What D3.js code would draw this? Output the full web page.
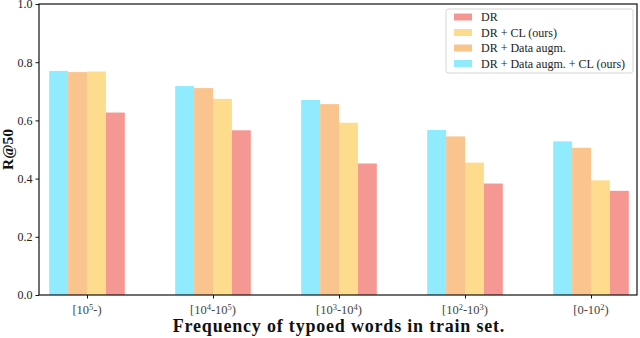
<!DOCTYPE html>
<html>
<head>
<meta charset="utf-8">
<script src="https://cdn.jsdelivr.net/npm/d3@7"></script>
<style>
  body { margin: 0; background: #fff; }
  svg text { font-family: "Liberation Serif", "DejaVu Serif", serif; fill: #222; }
</style>
</head>
<body>
<svg id="chart" width="640" height="338"></svg>
<script>
// frequency buckets, '^' marks a superscript digit
const buckets = ['[10^5-)', '[10^4-10^5)', '[10^3-10^4)', '[10^2-10^3)', '[0-10^2)']
const yTicks = [0, 0.2, 0.4, 0.6, 0.8, 1.0]

// R@50 per bucket
const dr = [0.627, 0.566, 0.452, 0.383, 0.358]
const drCl = [0.768, 0.674, 0.592, 0.455, 0.394]
const drAug = [0.766, 0.711, 0.656, 0.545, 0.506]
const drAugCl = [0.770, 0.718, 0.670, 0.567, 0.528]

const seriesNames = ['DR', 'DR + CL (ours)', 'DR + Data augm.', 'DR + Data augm. + CL (ours)']
const seriesColors = ['#f59893', '#fddd8d', '#fac48e', '#8febfd']

// bars are drawn left to right in this order
const barOrder = [
  { values: drAugCl, color: seriesColors[3] },
  { values: drAug, color: seriesColors[2] },
  { values: drCl, color: seriesColors[1] },
  { values: dr, color: seriesColors[0] },
]

const svg = d3.select('#chart')
const margin = { top: 4, right: 3, bottom: 43, left: 39 }
const width = 640 - margin.left - margin.right
const height = 338 - margin.top - margin.bottom
const barW = 0.15

const x = d3.scaleLinear().domain([-0.381, 4.365]).range([0, width])
const y = d3.scaleLinear().domain([0, 1]).range([height, 0])

const g = svg.append('g').attr('transform', `translate(${margin.left},${margin.top})`)

// bars
barOrder.forEach((s, si) => {
  g.selectAll(null)
    .data(s.values)
    .enter()
    .append('rect')
    .attr('x', (d, i) => x(i + (si - 2) * barW))
    .attr('width', (d, i) => x(i + (si - 1) * barW) - x(i + (si - 2) * barW))
    .attr('y', d => y(d))
    .attr('height', d => y(0) - y(d))
    .attr('fill', s.color)
})

// frame
g.append('rect')
  .attr('width', width).attr('height', height)
  .attr('fill', 'none').attr('stroke', '#111').attr('stroke-width', 1.2)

// y axis
const yAxis = g.append('g')
  .call(d3.axisLeft(y).tickValues(yTicks).tickFormat(d3.format('.1f')).tickSize(3.5).tickPadding(3))
yAxis.select('.domain').remove()
yAxis.selectAll('line').attr('stroke', '#111').attr('stroke-width', 1)
yAxis.selectAll('text').style('font-size', '12px').attr('fill', '#444')

// x axis
const xAxis = g.append('g')
  .attr('transform', `translate(0,${height})`)
  .call(d3.axisBottom(x).tickValues(d3.range(buckets.length)).tickFormat('').tickSize(3.5))
xAxis.select('.domain').remove()
xAxis.selectAll('line').attr('stroke', '#111').attr('stroke-width', 1)

buckets.forEach((label, i) => {
  const t = g.append('text')
    .attr('x', x(i))
    .attr('y', height + 19)
    .attr('text-anchor', 'middle')
    .style('font-size', '12.5px')
    .style('fill', '#444')
  label.split(/(\^\d)/).filter(p => p).forEach(p => {
    if (p[0] === '^') {
      t.append('tspan').text(p[1]).style('font-size', '8.5px').attr('dy', -4.5)
    } else {
      const ts = t.append('tspan').text(p)
      if (t.selectAll('tspan').size() > 1) ts.attr('dy', 4.5)
    }
  })
})

// axis titles
svg.append('text')
  .attr('x', margin.left + width / 2 + 1)
  .attr('y', 332)
  .attr('text-anchor', 'middle')
  .style('font-size', '18px')
  .style('font-weight', 'bold')
  .style('letter-spacing', '0.8px')
  .style('fill', '#111')
  .text('Frequency of typoed words in train set.')

svg.append('text')
  .attr('transform', `translate(13,${margin.top + height / 2}) rotate(-90)`)
  .attr('text-anchor', 'middle')
  .style('font-size', '15.5px')
  .style('font-weight', 'bold')
  .style('fill', '#111')
  .text('R@50')

// legend
const legend = g.append('g').attr('transform', `translate(${446 - margin.left},${9 - margin.top})`)
legend.append('rect')
  .attr('width', 187).attr('height', 64).attr('rx', 2.5)
  .attr('fill', '#fff').attr('fill-opacity', 0.8)
  .attr('stroke', '#d6d6d6').attr('stroke-width', 1)
seriesNames.forEach((name, i) => {
  const row = legend.append('g').attr('transform', `translate(0,${8 + i * 15.5})`)
  row.append('rect').attr('x', 8).attr('y', -3.5).attr('width', 18).attr('height', 7).attr('fill', seriesColors[i])
  row.append('text').attr('x', 35).attr('y', 4).style('font-size', '12px').style('fill', '#222').text(name)
})
</script>
</body>
</html>
